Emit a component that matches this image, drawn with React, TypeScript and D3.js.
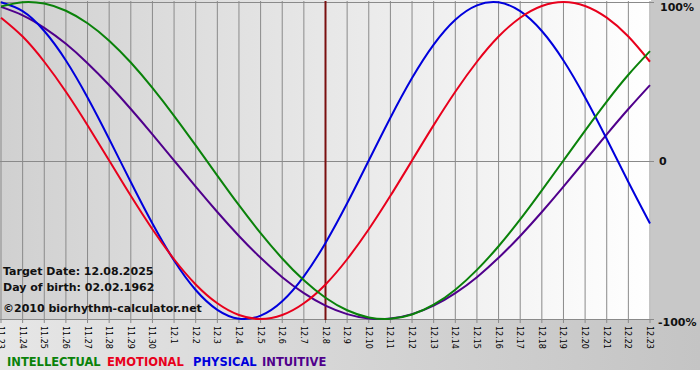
import React, { useEffect } from "react";
import * as d3 from "d3";

const dayLabels = [
  "11.23", "11.24", "11.25", "11.26", "11.27", "11.28", "11.29", "11.30",
  "12.1", "12.2", "12.3", "12.4", "12.5", "12.6", "12.7", "12.8", "12.9",
  "12.10", "12.11", "12.12", "12.13", "12.14", "12.15", "12.16", "12.17",
  "12.18", "12.19", "12.20", "12.21", "12.22", "12.23",
];

const physical = [
  0.998, 0.942, 0.817, 0.631, 0.398, 0.136, -0.136, -0.398, -0.631, -0.817,
  -0.942, -0.998, -0.979, -0.888, -0.731, -0.52, -0.27, 0, 0.27, 0.52, 0.731,
  0.888, 0.979, 0.998, 0.942, 0.817, 0.631, 0.398, 0.136, -0.136, -0.398,
];

const emotional = [
  0.901, 0.782, 0.623, 0.434, 0.223, 0, -0.223, -0.434, -0.623, -0.782,
  -0.901, -0.975, -1, -0.975, -0.901, -0.782, -0.623, -0.434, -0.223, 0,
  0.223, 0.434, 0.623, 0.782, 0.901, 0.975, 1, 0.975, 0.901, 0.782, 0.623,
];

const intellectual = [
  0.972, 0.999, 0.99, 0.945, 0.866, 0.756, 0.618, 0.458, 0.282, 0.095,
  -0.095, -0.282, -0.458, -0.618, -0.756, -0.866, -0.945, -0.99, -0.999,
  -0.972, -0.91, -0.815, -0.69, -0.541, -0.372, -0.189, 0, 0.189, 0.372,
  0.541, 0.69,
];

const intuitive = [
  0.969, 0.916, 0.837, 0.736, 0.614, 0.476, 0.325, 0.165, 0, -0.165, -0.325,
  -0.476, -0.614, -0.736, -0.837, -0.916, -0.969, -0.997, -0.997, -0.969,
  -0.916, -0.837, -0.736, -0.614, -0.476, -0.325, -0.165, 0, 0.165, 0.325,
  0.476,
];

const seriesNames = ["INTELLECTUAL", "EMOTIONAL", "PHYSICAL", "INTUITIVE"];
const seriesColors = ["#0a820a", "#e8001c", "#0000dc", "#50008c"];
const seriesData = [intellectual, emotional, physical, intuitive];
const drawOrder = [3, 2, 1, 0];

const yTickValues = [1, 0, -1];
const yTickLabels = ["100%", "0", "-100%"];

const targetDay = "12.8";
const infoLines = [
  "Target Date: 12.08.2025",
  "Day of birth: 02.02.1962",
  "©2010 biorhythm-calculator.net",
];

export default function App() {
  useEffect(() => {
    document.body.style.margin = "0";
  }, []);

  const W = 700;
  const H = 380;
  const plotL = 0;
  const plotR = 651;
  const plotT = 1;
  const plotB = 320;
  const legendXs = [7, 107, 193, 262];
  const infoYs = [275, 291, 312];

  const x = d3.scalePoint<string>().domain(dayLabels).range([1, 650]);
  const y = d3.scaleLinear().domain([-1, 1]).range([319, 2]);

  const line = (vals: number[]) =>
    d3
      .line<number>()
      .x((_, i) => x(dayLabels[i]) as number)
      .y((v) => y(v))
      .curve(d3.curveNatural)(vals) || "";

  const font = "'DejaVu Sans', Verdana, sans-serif";

  return (
    <svg width={W} height={H} style={{ display: "block" }}>
      <defs>
        <linearGradient id="plotBg" x1="0" x2="1" y1="0" y2="0">
          <stop offset="0" stopColor="#d0d0d0" />
          <stop offset="1" stopColor="#ffffff" />
        </linearGradient>
        <linearGradient id="bottomBg" x1="0" x2="1" y1="0" y2="0">
          <stop offset="0" stopColor="#e6e6e6" />
          <stop offset="1" stopColor="#c4c4c4" />
        </linearGradient>
        <clipPath id="plotClip">
          <rect x={plotL} y={0} width={plotR - plotL + 1} height={plotB + 1} />
        </clipPath>
      </defs>
      <rect x={0} y={0} width={W} height={H} fill="#ffffff" />
      <rect x={0} y={plotB} width={W} height={50} fill="url(#bottomBg)" />
      <rect x={plotR} y={0} width={W - plotR} height={plotB} fill="#c8c8c8" />
      <rect x={plotL} y={0} width={plotR - plotL} height={plotB} fill="url(#plotBg)" />

      {/* vertical day grid */}
      {dayLabels.map((d) => (
        <line
          key={"g" + d}
          x1={x(d)}
          x2={x(d)}
          y1={plotT}
          y2={plotB + 3}
          stroke="#8a8a8a"
          strokeWidth={1}
        />
      ))}
      {/* horizontal lines */}
      {yTickValues.map((v) => (
        <line
          key={"h" + v}
          x1={plotL}
          x2={plotR + 3}
          y1={Math.round(y(v)) + 0.5}
          y2={Math.round(y(v)) + 0.5}
          stroke="#8a8a8a"
          strokeWidth={1}
        />
      ))}

      {/* target date line */}
      <line
        x1={x(targetDay)}
        x2={x(targetDay)}
        y1={plotT}
        y2={plotB}
        stroke="#7a1010"
        strokeWidth={2}
      />

      <g clipPath="url(#plotClip)">
        {drawOrder.map((si) => (
          <path
            key={seriesNames[si]}
            d={line(seriesData[si])}
            fill="none"
            stroke={seriesColors[si]}
            strokeWidth={2}
          />
        ))}
      </g>

      {/* y labels */}
      {yTickValues.map((v, i) => (
        <text
          key={"yl" + v}
          x={v === 0 ? 659 : v > 0 ? 660 : 658}
          y={v > 0 ? 11 : v === 0 ? 165 : 326}
          fontFamily={font}
          fontWeight="bold"
          fontSize={11}
          fill="#111"
        >
          {yTickLabels[i]}
        </text>
      ))}

      {/* x labels rotated */}
      {dayLabels.map((d) => (
        <text
          key={"xl" + d}
          transform={`translate(${(x(d) as number) - 3},${plotB + 6}) rotate(90)`}
          fontFamily={font}
          fontSize={8}
          fill="#000"
        >
          {d}
        </text>
      ))}

      {/* info text */}
      {infoLines.map((t, i) => (
        <text
          key={"info" + i}
          x={3}
          y={infoYs[i]}
          fontFamily={font}
          fontWeight="bold"
          fontSize={11}
          fill="#111"
        >
          {t}
        </text>
      ))}

      {/* legend */}
      {seriesNames.map((n, i) => (
        <text
          key={"lg" + n}
          x={legendXs[i]}
          y={366}
          fontFamily={font}
          fontWeight="bold"
          fontSize={11.5}
          fill={seriesColors[i]}
        >
          {n}
        </text>
      ))}
    </svg>
  );
}
